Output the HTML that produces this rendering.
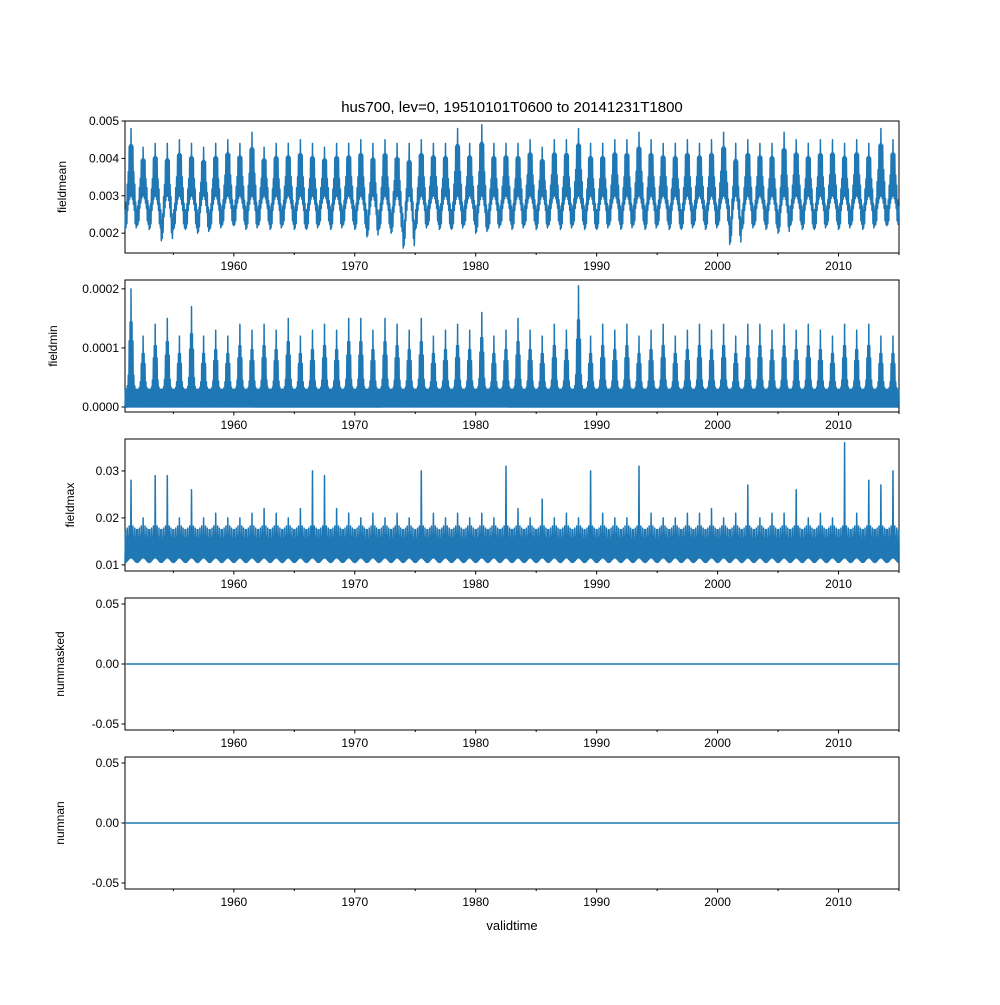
<!DOCTYPE html>
<html><head><meta charset="utf-8"><style>
body{margin:0;background:#fff}
svg{font-family:"Liberation Sans","DejaVu Sans",sans-serif}
</style></head><body>
<svg id="c" width="1000" height="1000">
<text x="512" y="112" font-size="15" text-anchor="middle">hus700, lev=0, 19510101T0600 to 20141231T1800</text>
<text x="512" y="930" font-size="13" text-anchor="middle">validtime</text>
</svg>
<script>
const years=[];for(let y=1951;y<=2014;y++)years.push(y);
const meanPeak=[0.0048,0.0043,0.0044,0.0044,0.0045,0.0044,0.0043,0.0044,0.0045,0.0044,0.0047,0.0043,0.0044,0.0044,0.0045,0.0044,0.0043,0.0044,0.0044,0.0045,0.0044,0.0045,0.0044,0.0044,0.0045,0.0044,0.0044,0.0048,0.0044,0.0049,0.0044,0.0044,0.0044,0.0045,0.0043,0.0045,0.0045,0.0048,0.0044,0.0044,0.0045,0.0045,0.0047,0.0045,0.0044,0.0044,0.0045,0.0044,0.0045,0.0047,0.0044,0.0045,0.0044,0.0044,0.0047,0.0045,0.0044,0.0045,0.0045,0.0044,0.0045,0.0044,0.0048,0.0045];
const meanTrough=[0.0021,0.0022,0.0021,0.0018,0.0021,0.0021,0.0020,0.0021,0.0022,0.0022,0.0021,0.0022,0.0021,0.0022,0.0021,0.0021,0.0022,0.0021,0.0022,0.0021,0.0019,0.0021,0.0020,0.0016,0.0021,0.0022,0.0021,0.0021,0.0022,0.0020,0.0021,0.0022,0.0021,0.0022,0.0021,0.0022,0.0021,0.0022,0.0021,0.0021,0.0022,0.0021,0.0022,0.0021,0.0022,0.0021,0.0021,0.0022,0.0021,0.0022,0.0017,0.0021,0.0022,0.0021,0.0020,0.0022,0.0021,0.0021,0.0022,0.0021,0.0022,0.0021,0.0022,0.0022];
const minPeak=[0.00020,0.00012,0.00014,0.00015,0.00012,0.00017,0.00012,0.00013,0.00012,0.00014,0.00013,0.00014,0.00013,0.00015,0.00012,0.00013,0.00014,0.00013,0.00015,0.00015,0.00013,0.00015,0.00014,0.00013,0.00015,0.00012,0.00013,0.00014,0.00013,0.00016,0.00012,0.00013,0.00015,0.00013,0.00012,0.00014,0.00013,0.000205,0.00012,0.00014,0.00013,0.00014,0.00012,0.00013,0.00014,0.00012,0.00013,0.00014,0.00013,0.00014,0.00012,0.00014,0.00014,0.00013,0.00014,0.00013,0.00014,0.00013,0.00012,0.00014,0.00013,0.00014,0.00012,0.00012];
const maxSpike=[0.028,0.020,0.029,0.029,0.020,0.026,0.020,0.021,0.020,0.020,0.021,0.022,0.021,0.020,0.022,0.030,0.029,0.022,0.021,0.020,0.021,0.020,0.021,0.020,0.030,0.021,0.020,0.021,0.020,0.021,0.020,0.031,0.022,0.020,0.024,0.020,0.021,0.020,0.030,0.021,0.020,0.020,0.031,0.021,0.020,0.020,0.021,0.021,0.022,0.020,0.021,0.027,0.020,0.021,0.021,0.026,0.020,0.021,0.020,0.036,0.021,0.028,0.027,0.030];
const xTicks=[1960,1970,1980,1990,2000,2010];
const NS="http://www.w3.org/2000/svg";
const svg=document.getElementById('c');
const X0=125,X1=899,T0=1951,T1=2015;
const xs=t=>X0+(t-T0)/(T1-T0)*(X1-X0);
function el(tag,attrs,parent){const e=document.createElementNS(NS,tag);for(const k in attrs)e.setAttribute(k,attrs[k]);(parent||svg).appendChild(e);return e;}
function panel(top,bot,lo,hi,ticks,fmt,label,name){
 const ys=v=>bot-(v-lo)/(hi-lo)*(bot-top);
 const g=el('g',{});
 
 
 el('rect',{x:X0,y:top,width:X1-X0,height:bot-top,fill:'none',stroke:'#000','stroke-width':1},g);
 for(let t=1955;t<=2015;t+=5){const x=xs(t);el('line',{x1:x,x2:x,y1:bot,y2:bot+(t%10?2:3.5),stroke:'#000'},g);}
 xTicks.forEach(t=>{const tx=el('text',{x:xs(t),y:bot+17,'font-size':12,'text-anchor':'middle'},g);tx.textContent=t;
  
  });
 ticks.forEach(v=>{const y=ys(v);el('line',{x1:X0-3.5,x2:X0,y1:y,y2:y,stroke:'#000'},g);
  const tx=el('text',{x:X0-6,y:y+4,'font-size':12,'text-anchor':'end'},g);tx.textContent=fmt(v);
  
  });
 const yl=el('text',{x:0,y:0,'font-size':12,'text-anchor':'middle',transform:`translate(${name==='fieldmean'?66:name==='fieldmin'?57:name==='fieldmax'?74:64},${(top+bot)/2}) rotate(-90)`},g);
 yl.textContent=label;
 
 
 return {ys,g};
}
function series(p,hiF,loF,name){
 let d='';const N=26;
 years.forEach((y,i)=>{for(let k=0;k<N;k++){const ph=k/N;const s=0.5-0.5*Math.cos(2*Math.PI*ph);
  const v=(k%2?hiF(i,s,k):loF(i,s,k));d+=(d?'L':'M')+xs(y+ph).toFixed(1)+','+p.ys(v).toFixed(1);}});
 const pa=el('path',{d,fill:'none',stroke:'#1f77b4','stroke-width':1.5,'stroke-linejoin':'round'},p.g);
 
 
}
// panel 1
let p=panel(121,253,0.00147,0.005,[0.002,0.003,0.004,0.005],v=>v.toFixed(3),'fieldmean','fieldmean');
series(p,(i,s,k)=>meanTrough[i]+0.0005+(meanPeak[i]-meanTrough[i]-0.0005)*s*(k%4===1?1:0.85),(i,s)=>meanTrough[i]+(0.0028-meanTrough[i])*s+(s>0.4?0.0002:0),'fieldmean');
// panel 2
p=panel(280,412,-0.0000085,0.000215,[0,0.0001,0.0002],v=>v.toFixed(4),'fieldmin','fieldmin');
series(p,(i,s,k)=>0.00003+(minPeak[i]-0.00003)*Math.pow(s,3)*(k%4===1?1:0.8),(i,s)=>0,'fieldmin');
// panel 3
p=panel(439,571,0.0087,0.0368,[0.01,0.02,0.03],v=>v.toFixed(2),'fieldmax','fieldmax');
series(p,(i,s,k)=>k===13?maxSpike[i]:(k%4===1?0.0175:0.0155)+0.001*s,(i,s)=>0.0105+0.001*s,'fieldmax');
// panels 4,5
[['nummasked',598,730],['numnan',757,889]].forEach(([n,t,b])=>{
 const q=panel(t,b,-0.055,0.055,[-0.05,0,0.05],v=>v.toFixed(2),n,n);
 const l=el('line',{x1:X0,x2:X1,y1:q.ys(0),y2:q.ys(0),stroke:'#1f77b4','stroke-width':1.5},q.g);
 
 
});
</script>
</body></html>
